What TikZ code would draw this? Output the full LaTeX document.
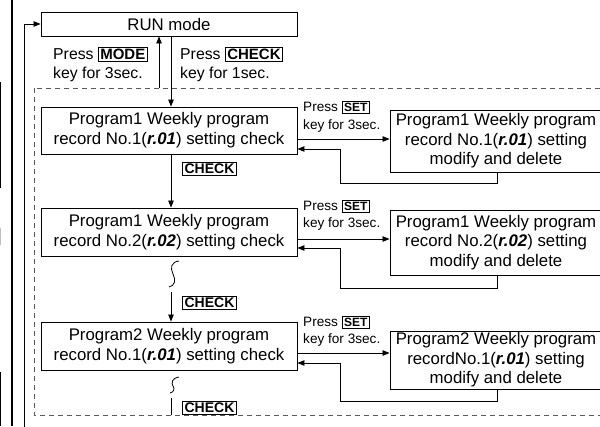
\documentclass[tikz,border=0pt]{standalone}
\usepackage{fontspec}
\setmainfont{Liberation Sans}
\usetikzlibrary{arrows.meta}
\newcommand{\keyb}[2][15]{{\setlength{\fboxsep}{1.5pt}\setlength{\fboxrule}{0.8pt}\fbox{\fontsize{#1}{#1}\selectfont\bfseries #2}}}
\newcommand{\disp}[1]{{\bfseries\itshape #1}}
\begin{document}
\begin{tikzpicture}[x=1pt,y=-1pt,
  arr/.style={line width=0.8pt,-{Triangle[length=7pt,width=5.5pt]}},
  ln/.style={line width=0.8pt},
  lbox/.style={draw,line width=0.9pt,minimum width=256pt,minimum height=47pt,align=center,inner sep=0pt,font=\fontsize{16.8}{20}\selectfont},
  rbox/.style={draw,line width=0.9pt,minimum width=212pt,align=center,inner sep=0pt,font=\fontsize{16.8}{19.5}\selectfont},
  biglab/.style={align=left,anchor=west,inner sep=0pt,font=\fontsize{15.8}{18.5}\selectfont},
  setlab/.style={align=left,anchor=west,inner sep=0pt,font=\fontsize{13.6}{17.5}\selectfont},
  keyn/.style={draw,line width=0.8pt,inner xsep=2pt,inner ysep=1.5pt,font=\fontsize{14}{14}\selectfont\bfseries},
  dbox/.style={dashed,dash pattern=on 5pt off 4pt,line width=0.8pt,draw=black!65}
]
\useasboundingbox (0,0) rectangle (600,426);
\clip (0,0) rectangle (600,426);

% edge fragments
\draw[line width=1.6pt] (0.5,82) -- (0.5,188);
\draw[line width=1.6pt,black!25] (0.5,228) -- (0.5,245);
\draw[line width=1.6pt] (0.5,372) -- (0.5,426);
\draw[line width=2.6pt] (12,0) -- (12,426);

% dashed region
\draw[dbox] (34,88) rectangle (620,415);

% nodes
\node[draw,line width=0.9pt,minimum width=256pt,minimum height=24pt,inner sep=0pt,font=\fontsize{16.8}{20}\selectfont] (RUN) at (169,24) {RUN mode};
\node[lbox] (L1) at (169,130.5) {Program1 Weekly program\\record No.1(\disp{r.01}) setting check};
\node[lbox,minimum height=48pt] (L2) at (169,232) {Program1 Weekly program\\record No.2(\disp{r.02}) setting check};
\node[lbox,minimum height=48pt] (L3) at (169,346) {Program2 Weekly program\\record No.1(\disp{r.01}) setting check};

\node[rbox,minimum height=62pt] (R1) at (496,141) {Program1 Weekly program\\record No.1(\disp{r.01}) setting\\modify and delete};
\node[rbox,minimum height=65pt] (R2) at (496,242.5) {Program1 Weekly program\\record No.2(\disp{r.02}) setting\\modify and delete};
\node[rbox,minimum height=58pt] (R3) at (496,360) {Program2 Weekly program\\recordNo.1(\disp{r.01}) setting\\modify and delete};

% labels
\node[biglab] (pm) at (53,64) {Press \keyb{MODE}\\key for 3sec.};
\node[biglab] (pc) at (180,64) {Press \keyb{CHECK}\\key for 1sec.};
\node[setlab] (s1) at (303,116.5) {Press \keyb[12]{SET}\\key for 3sec.};
\node[setlab] (s2) at (303,215) {Press \keyb[12]{SET}\\key for 3sec.};
\node[setlab] (s3) at (303,331) {Press \keyb[12]{SET}\\key for 3sec.};
\node[keyn] (k1) at (209.5,169) {CHECK};
\node[keyn] (k2) at (209.5,303) {CHECK};
\node[keyn] (k3) at (209.5,407.5) {CHECK};

% coordinates
\coordinate (dx) at (171,0);
\coordinate (ux) at (159,88);
\coordinate (lb) at (24,440);
\coordinate (sq1) at (171,292);
\coordinate (sq2) at (171,398);
\coordinate (bot) at (171,415);

% vertical flow
\draw[arr] (RUN.south -| dx) -- (L1.north -| dx);
\draw[arr] (ux) -- (RUN.south -| ux);
\draw[arr] (L1.south -| dx) -- (L2.north -| dx);
\draw[ln] (179,261) .. controls (171,262) and (170,268) .. (173,274) .. controls (176,280) and (175,286) .. (169,287);
\draw[arr] (sq1) -- (L3.north -| dx);
\draw[ln] (179,377) .. controls (172,378) and (171,383) .. (173,386) .. controls (175,389) and (174,392) .. (170,393);
\draw[ln] (sq2) -- (bot);

% loop back to RUN
\draw[arr] (lb) |- (RUN.west);

% row 1
\coordinate (f1) at (0,139);
\coordinate (a1) at (497,183);
\coordinate (b1) at (340,149);
\draw[arr] (L1.east |- f1) -- (R1.west |- f1);
\draw[arr] (R1.south -| a1) -- (a1) -| (b1) -- (L1.east |- b1);
% row 2
\coordinate (f2) at (0,239);
\coordinate (a2) at (497,288);
\coordinate (b2) at (340,248);
\draw[arr] (L2.east |- f2) -- (R2.west |- f2);
\draw[arr] (R2.south -| a2) -- (a2) -| (b2) -- (L2.east |- b2);
% row 3
\coordinate (f3) at (0,353);
\coordinate (a3) at (497,401);
\coordinate (b3) at (340,363);
\draw[arr] (L3.east |- f3) -- (R3.west |- f3);
\draw[arr] (R3.south -| a3) -- (a3) -| (b3) -- (L3.east |- b3);
\end{tikzpicture}
\end{document}
